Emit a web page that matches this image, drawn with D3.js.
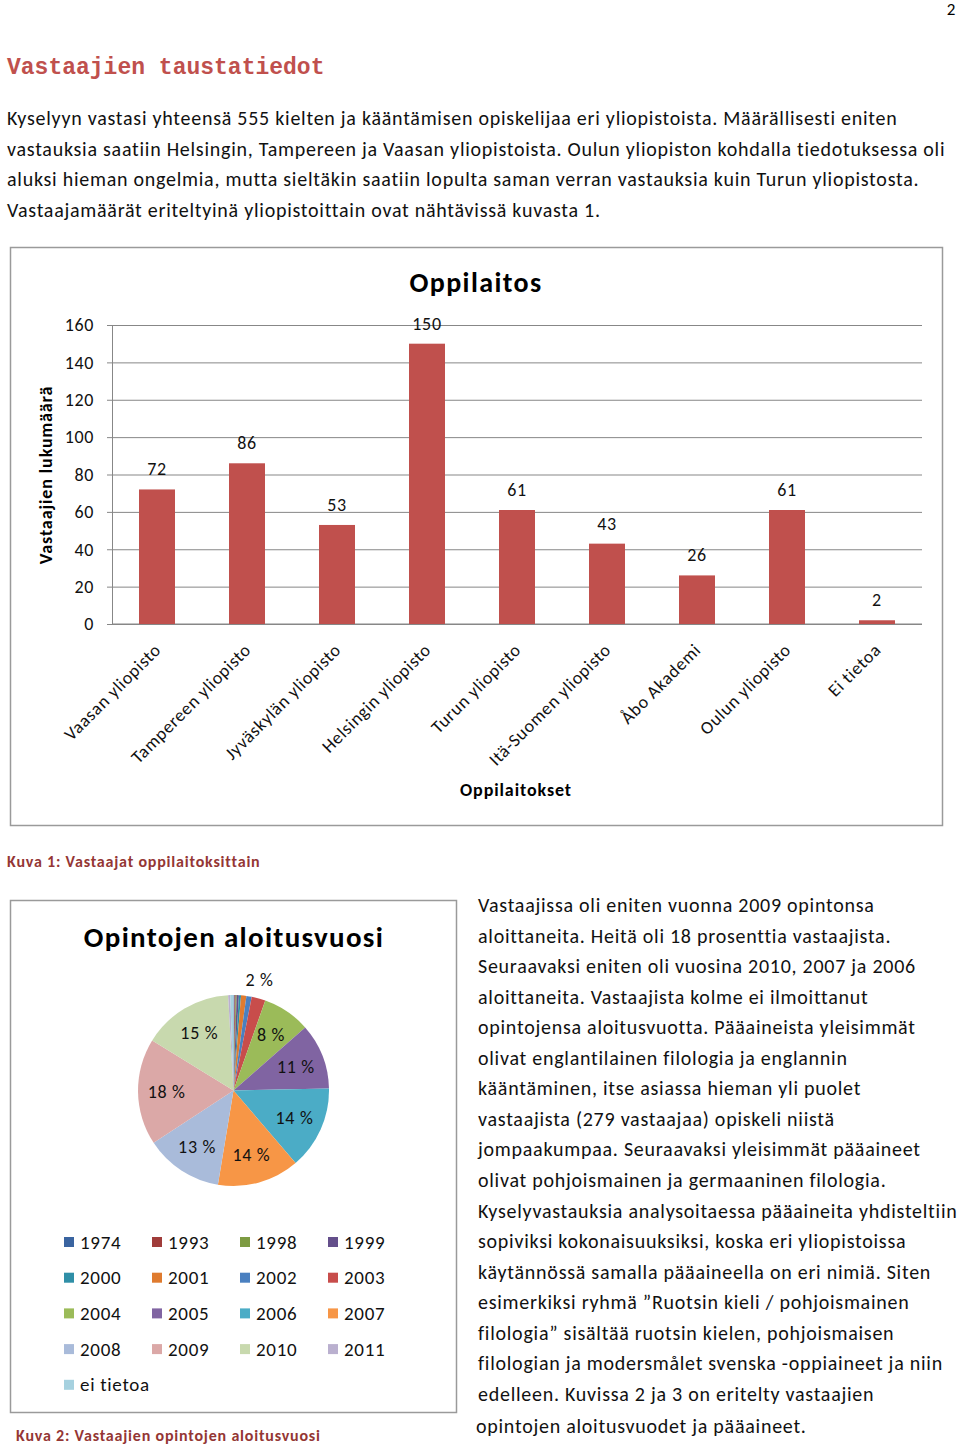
<!DOCTYPE html>
<html><head><meta charset="utf-8">
<script src="https://cdn.jsdelivr.net/npm/d3@7"></script>
<style>
html,body{margin:0;padding:0;background:#fff;}
svg{display:block;}
text{font-family:Carlito,Lato,"Open Sans",sans-serif;letter-spacing:0.037em;}
</style></head>
<body><svg id="page" width="960" height="1449"></svg>
<script>
// ---------- data ----------
const schools = ["Vaasan yliopisto","Tampereen yliopisto","Jyväskylän yliopisto","Helsingin yliopisto","Turun yliopisto","Itä-Suomen yliopisto","Åbo Akademi","Oulun yliopisto","Ei tietoa"];
const schoolCounts = [72,86,53,150,61,43,26,61,2];
const yTicks = [0,20,40,60,80,100,120,140,160];

const years = ["1974","1993","1998","1999","2000","2001","2002","2003","2004","2005","2006","2007","2008","2009","2010","2011","ei tietoa"];
const yearCounts = [1,1,1,2,2,5,5,13,45,62,78,77,73,100,85,2,3];
const yearColors = ["#3a64a0","#a03c3a","#7d9b42","#644f8b","#2f8fa7","#df7b2f","#4a80c0","#c84d4b","#9bbb59","#8064a2","#4bacc6","#f79646","#a9bbda","#dba8a7","#c8d9ae","#bab0cf","#a6d1df"];

const paraTop = [
 "Kyselyyn vastasi yhteensä 555 kielten ja kääntämisen opiskelijaa eri yliopistoista. Määrällisesti eniten",
 "vastauksia saatiin Helsingin, Tampereen ja Vaasan yliopistoista. Oulun yliopiston kohdalla tiedotuksessa oli",
 "aluksi hieman ongelmia, mutta sieltäkin saatiin lopulta saman verran vastauksia kuin Turun yliopistosta.",
 "Vastaajamäärät eriteltyinä yliopistoittain ovat nähtävissä kuvasta 1."
];
const paraRight = [
 "Vastaajissa oli eniten vuonna 2009 opintonsa",
 "aloittaneita. Heitä oli 18 prosenttia vastaajista.",
 "Seuraavaksi eniten oli vuosina 2010, 2007 ja 2006",
 "aloittaneita. Vastaajista kolme ei ilmoittanut",
 "opintojensa aloitusvuotta. Pääaineista yleisimmät",
 "olivat englantilainen filologia ja englannin",
 "kääntäminen, itse asiassa hieman yli puolet",
 "vastaajista (279 vastaajaa) opiskeli niistä",
 "jompaakumpaa. Seuraavaksi yleisimmät pääaineet",
 "olivat pohjoismainen ja germaaninen filologia.",
 "Kyselyvastauksia analysoitaessa pääaineita yhdisteltiin",
 "sopiviksi kokonaisuuksiksi, koska eri yliopistoissa",
 "käytännössä samalla pääaineella on eri nimiä. Siten",
 "esimerkiksi ryhmä ”Ruotsin kieli / pohjoismainen",
 "filologia” sisältää ruotsin kielen, pohjoismaisen",
 "filologian ja modersmålet svenska -oppiaineet ja niin",
 "edelleen. Kuvissa 2 ja 3 on eritelty vastaajien",
 "opintojen aloitusvuodet ja pääaineet."
];

const svg = d3.select("#page");
const red = "#c0504d", capRed = "#943634";

// page number & heading
svg.append("text").attr("x",956).attr("y",15).attr("text-anchor","end").attr("font-size",17).text("2");
svg.append("text").attr("x",7).attr("y",74)
  .style("font-family","'Liberation Mono','DejaVu Sans Mono',monospace").style("letter-spacing","0")
  .attr("font-weight","bold").attr("font-size",23).attr("fill",red).attr("xml:space","preserve")
  .text("Vastaajien taustatiedot");

const tp = svg.append("g").attr("font-size",20).attr("fill","#111");
paraTop.forEach((t,i)=>tp.append("text").attr("x",7).attr("y",125+i*30.6).text(t));

// ---------- bar chart ----------
svg.append("rect").attr("x",10.5).attr("y",247.5).attr("width",932).attr("height",578)
  .attr("fill","#fff").attr("stroke","#9a9a9a").attr("stroke-width",1.5);
svg.append("text").attr("x",476).attr("y",292).attr("text-anchor","middle")
  .attr("font-weight","bold").attr("font-size",28).style("letter-spacing","0.05em").text("Oppilaitos");

const x = d3.scaleBand().domain(schools).range([112,922]).paddingInner(0.6).paddingOuter(0.3);
const y = d3.scaleLinear().domain([0,160]).range([624,325]);

const grid = svg.append("g").attr("transform","translate(112,0)")
  .call(d3.axisLeft(y).tickValues(yTicks).tickSize(-810).tickFormat(""));
grid.select(".domain").remove();
grid.selectAll("line").attr("stroke","#878787");
const ya = svg.append("g").attr("transform","translate(112,0)")
  .call(d3.axisLeft(y).tickValues(yTicks).tickSize(5).tickPadding(13));
ya.select(".domain").attr("stroke","#878787");
ya.selectAll("line").attr("stroke","#878787");
ya.selectAll("text").attr("font-size",18).attr("fill","#111").style("font-family","Carlito,Lato,sans-serif");

svg.append("line").attr("x1",112).attr("x2",922).attr("y1",y(0)).attr("y2",y(0)).attr("stroke","#878787");

svg.append("g").selectAll("rect").data(schools).join("rect")
  .attr("x",d=>x(d)).attr("width",x.bandwidth())
  .attr("y",(d,i)=>y(schoolCounts[i])).attr("height",(d,i)=>y(0)-y(schoolCounts[i]))
  .attr("fill",red);
svg.append("g").selectAll("text").data(schools).join("text")
  .attr("x",d=>x(d)+x.bandwidth()/2).attr("y",(d,i)=>y(schoolCounts[i])-14)
  .attr("text-anchor","middle").attr("font-size",18).attr("fill","#111")
  .text((d,i)=>schoolCounts[i]);

svg.append("g").selectAll("text").data(schools).join("text")
  .attr("transform",d=>`translate(${x(d)+x.bandwidth()/2+5},${651}) rotate(-45)`)
  .attr("text-anchor","end").attr("font-size",18).attr("fill","#111").text(d=>d);

svg.append("text").attr("transform","translate(52,475) rotate(-90)").attr("text-anchor","middle")
  .attr("font-weight","bold").attr("font-size",18).style("letter-spacing","0.05em").text("Vastaajien lukumäärä");
svg.append("text").attr("x",516).attr("y",796).attr("text-anchor","middle")
  .attr("font-weight","bold").attr("font-size",18).style("letter-spacing","0.05em").text("Oppilaitokset");

svg.append("text").attr("x",7).attr("y",867).attr("font-weight","bold").attr("font-size",16)
  .attr("fill",capRed).style("letter-spacing","0.05em").text("Kuva 1: Vastaajat oppilaitoksittain");

// ---------- pie chart ----------
svg.append("rect").attr("x",10.5).attr("y",900.5).attr("width",446).attr("height",512)
  .attr("fill","#fff").attr("stroke","#9a9a9a").attr("stroke-width",1.5);
svg.append("text").attr("x",234).attr("y",947).attr("text-anchor","middle")
  .attr("font-weight","bold").attr("font-size",29).style("letter-spacing","0.045em").text("Opintojen aloitusvuosi");

const cx = 233.5, cy = 1090.5, R = 95.5;
const total = d3.sum(yearCounts);
const pieData = d3.pie().sort(null)(yearCounts);
const arc = d3.arc().innerRadius(0).outerRadius(R);
const pg = svg.append("g").attr("transform",`translate(${cx},${cy})`);
pg.selectAll("path").data(pieData).join("path").attr("d",arc)
  .attr("fill",(d,i)=>yearColors[i]);
const inner = d3.arc().innerRadius(R*0.7).outerRadius(R*0.7);
const outer = d3.arc().innerRadius(R*1.2).outerRadius(R*1.2);
pg.selectAll("text").data(pieData.filter(d=>Math.round(d.value/total*100)>=2)).join("text")
  .attr("transform",d=>{const small=Math.round(d.value/total*100)<5;const p=(small?outer:inner).centroid(d);return `translate(${p[0]-(small?4:0)},${p[1]})`;})
  .attr("text-anchor","middle").attr("dy","0.35em").attr("font-size",18).attr("fill","#111")
  .text(d=>Math.round(d.value/total*100)+" %");

// legend
const lg = svg.append("g");
years.forEach((yr,i)=>{
  const col=i%4, row=Math.floor(i/4);
  const gx=64+col*88, gy=1242+row*35.7;
  lg.append("rect").attr("x",gx).attr("y",gy-5).attr("width",10).attr("height",10).attr("fill",yearColors[i]);
  lg.append("text").attr("x",gx+16).attr("y",gy).attr("dy","0.35em").attr("font-size",19).attr("fill","#111").text(yr);
});

svg.append("text").attr("x",16).attr("y",1441).attr("font-weight","bold").attr("font-size",16)
  .attr("fill",capRed).style("letter-spacing","0.05em").text("Kuva 2: Vastaajien opintojen aloitusvuosi");

// right paragraph
const rp = svg.append("g").attr("font-size",20).attr("fill","#111");
paraRight.forEach((t,i)=>rp.append("text").attr("x",i===paraRight.length-1?476:478)
  .attr("y",912+i*30.55+(i===paraRight.length-1?2:0)).text(t));
</script></body></html>
